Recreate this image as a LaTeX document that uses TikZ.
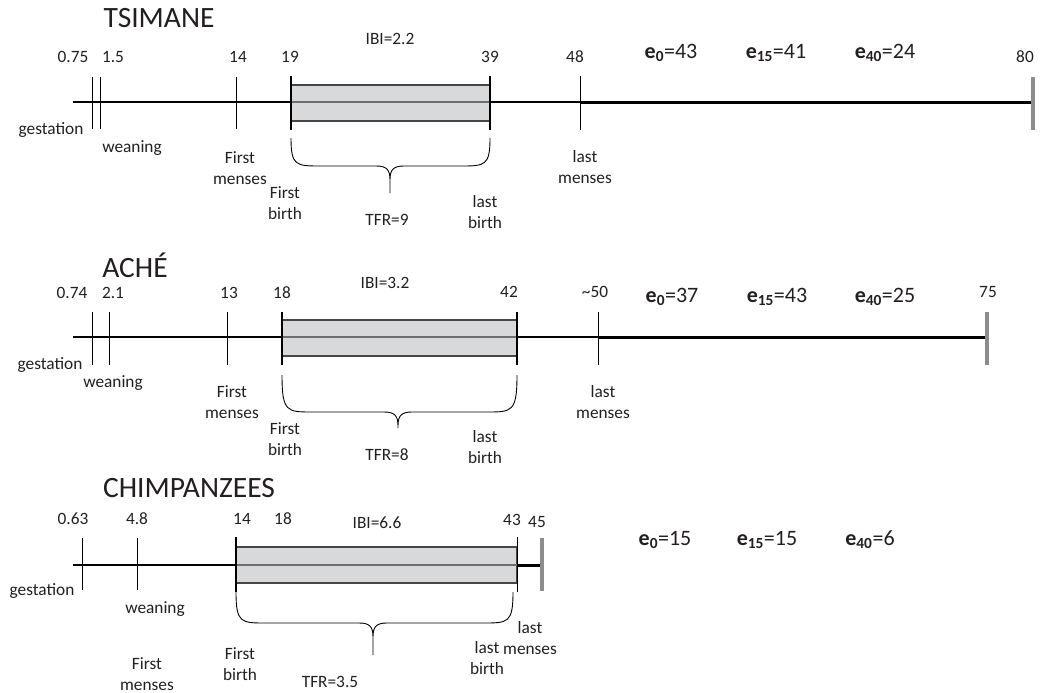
\documentclass[tikz,border=0pt]{standalone}
\usepackage{fontspec}
\setmainfont{Carlito}
\definecolor{txt}{RGB}{35,31,32}
\definecolor{boxfill}{RGB}{216,217,219}
\definecolor{boxedge}{RGB}{70,70,70}
\definecolor{midline}{RGB}{110,110,110}
\definecolor{endbar}{RGB}{140,140,140}
\newcommand\mybrace[6]{% xl xr xm ytop yh ytip
  \draw[bracestyle] (#1,#4) .. controls (#1,#5) and (#1+5,#5) .. (#1+30,#5)
    -- (#3-14,#5) .. controls (#3-3,#5) and (#3,#5+4) .. (#3,#5+14) -- (#3,#6)
    -- (#3,#5+14) .. controls (#3,#5+4) and (#3+3,#5) .. (#3+14,#5)
    -- (#2-30,#5) .. controls (#2-5,#5) and (#2,#5) .. (#2,#4);}
\begin{document}
\begin{tikzpicture}[x=1pt,y=-1pt,
  every node/.style={text=txt,inner sep=0pt},
  title/.style={font=\fontsize{29.5}{32}\selectfont},
  num/.style={font=\fontsize{17.3}{20}\selectfont},
  lab/.style={font=\fontsize{17.3}{21.5}\selectfont,align=center},
  ev/.style={font=\fontsize{22}{25}\selectfont},
  axis/.style={line width=2pt,black},
  adult/.style={line width=3pt,black},
  tick/.style={line width=0.9pt,black},
  edgetick/.style={line width=2pt,black},
  ibox/.style={fill=boxfill,draw=boxedge,line width=1.3pt},
  mid/.style={line width=1.5pt,midline},
  bar/.style={line width=4pt,endbar},
  bracestyle/.style={line width=0.9pt,black}]
\useasboundingbox (0,0) rectangle (1044,693);

% ================= TSIMANE =================
\node[title] (t1) at (159,18) {TSIMANE};
\coordinate (a1s) at (73,102);
\coordinate (a1m) at (580,102);
\coordinate (a1e) at (1033,102);
\draw[axis] (a1s) -- (a1m);
\draw[adult] (a1m) -- (a1e);
\draw[ibox] (291,85) rectangle (490,121);
\draw[mid] (291,102) -- (490,102);
\draw[tick] (92,77) -- (92,129);
\draw[tick] (100,77) -- (100,129);
\draw[tick] (236,77) -- (236,129);
\draw[edgetick] (291,76) -- (291,130);
\draw[edgetick] (490,76) -- (490,130);
\draw[tick] (580,76) -- (580,130);
\draw[bar] (1033,77) -- (1033,130);
\mybrace{291}{490}{390}{138}{166}{193}
\node[num] (n1a) at (73,57) {0.75};
\node[num] (n1b) at (113,57) {1.5};
\node[num] (n1c) at (238,57) {14};
\node[num] (n1d) at (290,57) {19};
\node[num] (n1e) at (490,57) {39};
\node[num] (n1f) at (575,57) {48};
\node[num] (n1g) at (1025,57) {80};
\node[num] (ibi1) at (390,39) {IBI=2.2};
\node[ev] (e1a) at (671,53) {\textbf{e\textsubscript{0}}=43};
\node[ev] (e1b) at (776,53) {\textbf{e\textsubscript{15}}=41};
\node[ev] (e1c) at (885,53) {\textbf{e\textsubscript{40}}=24};
\node[lab] (g1) at (51,130) {gestation};
\node[lab] (w1) at (132,148) {weaning};
\node[lab] (fm1) at (240,168) {First\\menses};
\node[lab] (fb1) at (285,203) {First\\birth};
\node[lab] (tfr1) at (387,220) {TFR=9};
\node[lab] (lb1) at (485,212) {last\\birth};
\node[lab] (lm1) at (585,167) {last\\menses};

% ================= ACHE =================
\node[title] (t2) at (135,265) {ACHÉ};
\coordinate (a2s) at (73,337);
\coordinate (a2m) at (598,337);
\coordinate (a2e) at (987,337);
\draw[axis] (a2s) -- (a2m);
\draw[adult] (a2m) -- (a2e);
\draw[ibox] (282,320) rectangle (517,356);
\draw[mid] (282,337) -- (517,337);
\draw[tick] (92,312) -- (92,365);
\draw[tick] (109,312) -- (109,365);
\draw[tick] (227,312) -- (227,365);
\draw[edgetick] (282,312) -- (282,365);
\draw[edgetick] (517,312) -- (517,365);
\draw[tick] (598,312) -- (598,365);
\draw[bar] (987,312) -- (987,365);
\mybrace{282}{517}{398}{375}{412}{428}
\node[num] (n2a) at (72,293) {0.74};
\node[num] (n2b) at (113,293) {2.1};
\node[num] (n2c) at (229,293) {13};
\node[num] (n2d) at (282,293) {18};
\node[num] (n2e) at (509,292) {42};
\node[num] (n2f) at (595,292) {\textasciitilde 50};
\node[num] (n2g) at (988,292) {75};
\node[num] (ibi2) at (385,283) {IBI=3.2};
\node[ev] (e2a) at (672,297) {\textbf{e\textsubscript{0}}=37};
\node[ev] (e2b) at (777,297) {\textbf{e\textsubscript{15}}=43};
\node[ev] (e2c) at (885,297) {\textbf{e\textsubscript{40}}=25};
\node[lab] (g2) at (50,365) {gestation};
\node[lab] (w2) at (113,383) {weaning};
\node[lab] (fm2) at (232,402) {First\\menses};
\node[lab] (fb2) at (285,439) {First\\birth};
\node[lab] (tfr2) at (387,455) {TFR=8};
\node[lab] (lb2) at (485,447) {last\\birth};
\node[lab] (lm2) at (603,402) {last\\menses};

% ================= CHIMPANZEES =================
\node[title] (t3) at (189,488) {CHIMPANZEES};
\coordinate (a3s) at (73,565);
\coordinate (a3m) at (517,565);
\coordinate (a3e) at (542,565);
\draw[axis] (a3s) -- (236,565);
\draw[adult] (a3m) -- (a3e);
\draw[ibox] (236,547) rectangle (517,583);
\draw[mid] (236,565) -- (517,565);
\draw[tick] (82,538) -- (82,590);
\draw[tick] (137,538) -- (137,590);
\draw[edgetick] (236,537) -- (236,592);
\draw[tick] (517,537) -- (517,592);
\draw[bar] (542,538) -- (542,591);
\mybrace{236}{513}{373}{592}{623}{655}
\node[num] (n3a) at (73,519) {0.63};
\node[num] (n3b) at (137,519) {4.8};
\node[num] (n3c) at (242,519) {14};
\node[num] (n3d) at (283,519) {18};
\node[num] (n3e) at (512,520) {43};
\node[num] (n3f) at (537,522) {45};
\node[num] (ibi3) at (377,523) {IBI=6.6};
\node[ev] (e3a) at (665,540) {\textbf{e\textsubscript{0}}=15};
\node[ev] (e3b) at (767,540) {\textbf{e\textsubscript{15}}=15};
\node[ev] (e3c) at (870,540) {\textbf{e\textsubscript{40}}=6};
\node[lab] (g3) at (42,591) {gestation};
\node[lab] (w3) at (155,609) {weaning};
\node[lab] (fm3) at (147,674) {First\\menses};
\node[lab] (fb3) at (240,664) {First\\birth};
\node[lab] (tfr3) at (330,682) {TFR=3.5};
\node[lab] (lb3) at (487,658) {last\\birth};
\node[lab] (lm3) at (530,638) {last\\menses};
\end{tikzpicture}
\end{document}
